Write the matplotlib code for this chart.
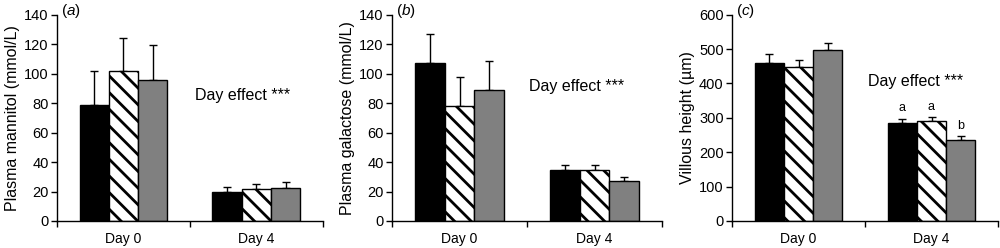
import matplotlib
matplotlib.use("Agg")
import matplotlib.pyplot as plt
import numpy as np

plt.rcParams['font.family'] = ['Liberation Sans', 'DejaVu Sans']
plt.rcParams['mathtext.fontset'] = 'custom'
plt.rcParams['mathtext.it'] = 'Liberation Sans:italic'
plt.rcParams['mathtext.rm'] = 'Liberation Sans'
plt.rcParams['hatch.linewidth'] = 2.0

days = ["Day 0", "Day 4"]

# Panel (a) plasma mannitol
mannitol_mean = {"black": [78.5, 19.5], "hatch": [101.5, 22.0], "gray": [95.5, 22.3]}
mannitol_err = {"black": [23.0, 3.8], "hatch": [22.5, 3.3], "gray": [23.8, 4.0]}

# Panel (b) plasma galactose
galactose_mean = {"black": [107.5, 34.8], "hatch": [78.3, 34.8], "gray": [88.8, 27.2]}
galactose_err = {"black": [19.5, 3.3], "hatch": [19.5, 3.3], "gray": [19.5, 2.9]}

# Panel (c) villous height
villous_mean = {"black": [460, 286], "hatch": [447, 290], "gray": [497, 236]}
villous_err = {"black": [25, 12], "hatch": [22, 12], "gray": [20, 12]}
villous_letters = {"black": ["", "a"], "hatch": ["", "a"], "gray": ["", "b"]}

panels = [
    dict(label="a", ylabel="Plasma mannitol (mmol/L)", mean=mannitol_mean, err=mannitol_err,
         ylim=140, yticks=np.arange(0, 141, 20), text_xy=(1.40, 85), letters=None),
    dict(label="b", ylabel="Plasma galactose (mmol/L)", mean=galactose_mean, err=galactose_err,
         ylim=140, yticks=np.arange(0, 141, 20), text_xy=(1.37, 91), letters=None),
    dict(label="c", ylabel="Villous height (µm)", mean=villous_mean, err=villous_err,
         ylim=600, yticks=np.arange(0, 601, 100), text_xy=(1.38, 407), letters=villous_letters),
]

styles = {
    "black": dict(color="black", hatch=None),
    "hatch": dict(color="white", hatch="\\\\"),
    "gray": dict(color="#808080", hatch=None),
}

fig = plt.figure(figsize=(10, 2.48), dpi=100)
W, H = 1000, 248
lefts = [57, 392, 732]
rights = [322.7, 662, 998]
bottom_px, top_px = 221, 14.7

bw = 0.22
offsets = [-bw, 0, bw]
for p, l, r in zip(panels, lefts, rights):
    ax = fig.add_axes([l / W, 1 - bottom_px / H, (r - l) / W, (bottom_px - top_px) / H])
    x = np.arange(len(days)) + 0.5
    for off, key in zip(offsets, ["black", "hatch", "gray"]):
        st = styles[key]
        ax.bar(x + off, p["mean"][key], width=bw, color=st["color"], edgecolor="black",
               linewidth=1.0, hatch=st["hatch"], zorder=2)
        ax.errorbar(x + off, p["mean"][key], yerr=[np.zeros(2), p["err"][key]], fmt="none",
                    ecolor="black", elinewidth=1.0, capsize=3.2, capthick=1.0, zorder=1)
        if p["letters"]:
            for xi, m, e, t in zip(x + off, p["mean"][key], p["err"][key], p["letters"][key]):
                if t:
                    ax.text(xi, m + e + p["ylim"] * 0.02, t, ha="center", va="bottom", fontsize=9)
    ax.set_xlim(0, 2)
    ax.set_ylim(0, p["ylim"])
    ax.set_yticks(p["yticks"])
    ax.set_xticks([0, 1, 2])
    ax.set_xticklabels([])
    ax.set_xticks(x, minor=True)
    ax.set_xticklabels(days, minor=True, fontsize=10)
    ax.tick_params(axis="x", which="minor", length=0, pad=8)
    ax.tick_params(axis="x", which="major", length=4, width=1.0, direction="out")
    ax.tick_params(axis="y", length=4, width=1.0, direction="out", labelsize=10.5, pad=2)
    for s in ["top", "right"]:
        ax.spines[s].set_visible(False)
    for s in ["left", "bottom"]:
        ax.spines[s].set_linewidth(1.0)
    ax.set_ylabel(p["ylabel"], fontsize=11.5, labelpad=3)
    ax.text(p["text_xy"][0], p["text_xy"][1], "Day effect ***", ha="center", va="center",
            fontsize=11.5)
    ax.text(0.015, 1.02, r"($\it{" + p["label"] + r"}$)", transform=ax.transAxes,
            ha="left", va="center", fontsize=11)

fig.savefig("out.png", dpi=100)
